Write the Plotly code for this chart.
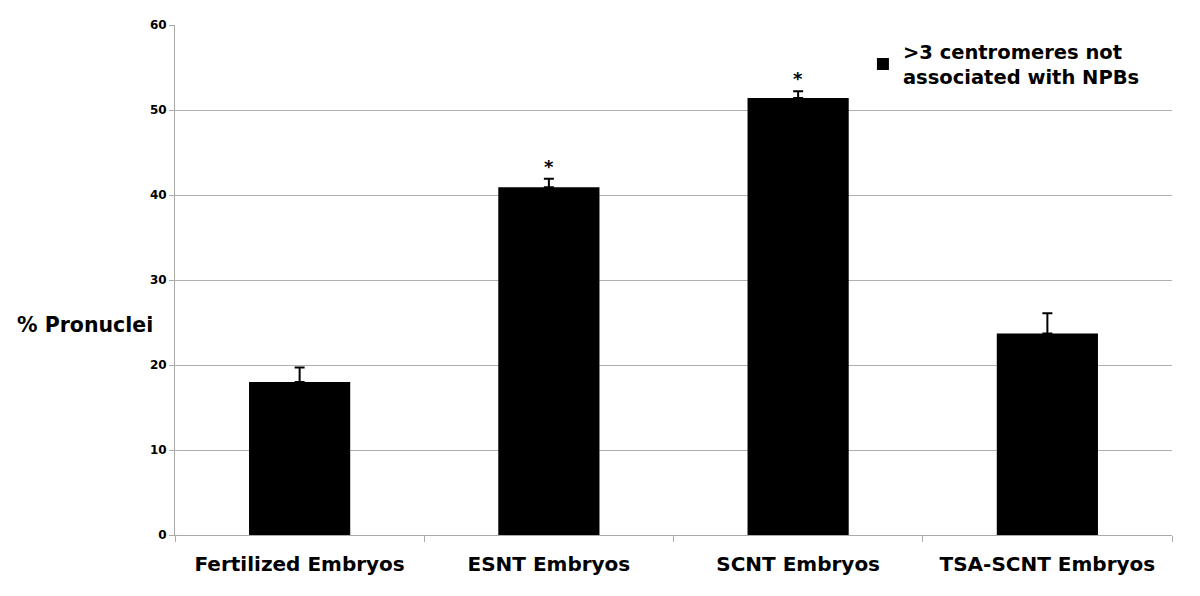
import plotly.graph_objects as go

categories = ["Fertilized Embryos", "ESNT Embryos", "SCNT Embryos", "TSA-SCNT Embryos"]
values = [18.0, 40.9, 51.4, 23.7]
errors = [1.7, 1.0, 0.8, 2.4]
significance = ["", "*", "*", ""]
series_name = "<b>>3 centromeres not<br>associated with NPBs</b>"
y_ticks = [0, 10, 20, 30, 40, 50, 60]

FONT = "DejaVu Sans, sans-serif"

fig = go.Figure()
fig.add_trace(go.Bar(
    x=categories, y=values, name=series_name,
    marker=dict(color="black", line=dict(width=0)),
    error_y=dict(type="data", array=errors, arrayminus=[0]*len(errors), symmetric=False,
                 color="black", thickness=2, width=5),
    showlegend=True,
))

for c, v, e, s in zip(categories, values, errors, significance):
    if s:
        fig.add_annotation(x=c, y=v + e, text="<b>" + s + "</b>", showarrow=False,
                           yanchor="bottom", yshift=0,
                           font=dict(family=FONT, size=18, color="black"))

fig.add_annotation(xref="paper", yref="y", x=0.0, y=24.7, xanchor="right", xshift=-20,
                   text="<b>% Pronuclei</b>", showarrow=False,
                   font=dict(family=FONT, size=20.5, color="black"))

fig.update_layout(
    width=1192, height=588,
    margin=dict(l=167, r=28, t=17, b=61, autoexpand=False),
    paper_bgcolor="white", plot_bgcolor="white",
    bargap=0.594,
    font=dict(family=FONT, color="black"),
    legend=dict(x=0.69, y=0.986, xanchor="left", yanchor="top",
                font=dict(family=FONT, size=19.5, color="black"),
                bgcolor="rgba(0,0,0,0)", itemwidth=30, tracegroupgap=0),
)
fig.update_xaxes(
    type="category", tickson="boundaries", ticks="outside", ticklen=6, tickcolor="#aaaaaa",
    showline=True, linecolor="#aaaaaa", linewidth=1, automargin=False,
    tickfont=dict(family=FONT, size=20, color="black"),
    tickprefix="<b>", ticksuffix="</b>", ticklabelstandoff=11,
    showgrid=False,
)
fig.update_yaxes(
    range=[0, 60], tickvals=y_ticks, ticktext=["<b>%d</b>" % t for t in y_ticks],
    ticks="outside", ticklen=5, tickcolor="#aaaaaa",
    showline=True, linecolor="#aaaaaa", linewidth=1, automargin=False,
    showgrid=True, gridcolor="#b0b0b0", gridwidth=1,
    tickfont=dict(family=FONT, size=12, color="black"),
    zeroline=False,
)

fig.write_html("out.html")
